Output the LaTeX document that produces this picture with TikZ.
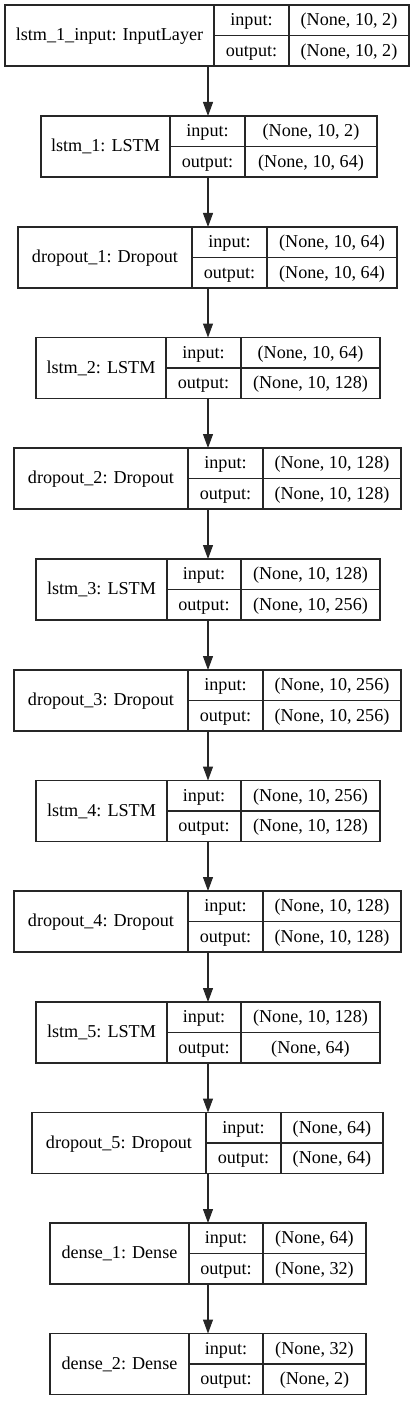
\documentclass[tikz,border=0pt]{standalone}
\usepackage{fontspec}
\setmainfont{Liberation Serif}
\usetikzlibrary{arrows.meta}

% one Keras layer record: name, left, divider 1, divider 2, right, top, layer, input shape, output shape
\newcommand{\kerasrec}[9]{%
  \node[recbox, minimum width={(#5-#2)*0.75pt}] (#1) at ({(#2+#5)/2},{#6+30.5}) {};
  \draw[recline] (#3,#6) -- (#3,#6+61);
  \draw[recline] (#4,#6) -- (#4,#6+61);
  \draw[recline] (#3,#6+30.5) -- (#5,#6+30.5);
  \node[rectext] (#1-name)   at ({(#2+#3)/2},{#6+30.5})  {#7};
  \node[rectext] (#1-inkey)  at ({(#3+#4)/2},{#6+15.25}) {input:};
  \node[rectext] (#1-outkey) at ({(#3+#4)/2},{#6+45.75}) {output:};
  \node[rectext] (#1-inval)  at ({(#4+#5)/2},{#6+15.25}) {#8};
  \node[rectext] (#1-outval) at ({(#4+#5)/2},{#6+45.75}) {#9};
}

\begin{document}
\begin{tikzpicture}[x=0.75pt,y=0.75pt,yscale=-1,xscale=1,
    recbox/.style={draw=black!85, line width=0.8pt, minimum height=45.75pt, inner sep=0pt, outer sep=0pt},
    recline/.style={draw=black!85, line width=0.8pt},
    rectext/.style={font=\fontsize{13.6}{16}\selectfont, inner sep=0pt, text height=10.2pt, text depth=2pt},
    flow/.style={draw=black!85, line width=0.8pt, -{Triangle[length=10.5pt,width=7.5pt]}}]

  \useasboundingbox (0,0) rectangle (416,1401);
  \coordinate (axis) at (208,0);

  % Input layer
  \kerasrec{lstm1input}{5}{214}{289}{409}{5}{lstm\_1\_input: InputLayer}{(None, 10, 2)}{(None, 10, 2)}

  % LSTM / Dropout pairs
  \kerasrec{lstm1}{41}{170}{245}{377}{116}{lstm\_1: LSTM}{(None, 10, 2)}{(None, 10, 64)}
  \kerasrec{dropout1}{18}{192}{267}{397}{227}{dropout\_1: Dropout}{(None, 10, 64)}{(None, 10, 64)}
  \kerasrec{lstm2}{36}{166}{241}{380}{337.5}{lstm\_2: LSTM}{(None, 10, 64)}{(None, 10, 128)}
  \kerasrec{dropout2}{14}{188}{263}{401}{448}{dropout\_2: Dropout}{(None, 10, 128)}{(None, 10, 128)}
  \kerasrec{lstm3}{36}{167}{241}{380}{559}{lstm\_3: LSTM}{(None, 10, 128)}{(None, 10, 256)}
  \kerasrec{dropout3}{14}{188}{263}{401}{670}{dropout\_3: Dropout}{(None, 10, 256)}{(None, 10, 256)}
  \kerasrec{lstm4}{36}{167}{241}{380}{780.5}{lstm\_4: LSTM}{(None, 10, 256)}{(None, 10, 128)}
  \kerasrec{dropout4}{14}{188}{263}{401}{891}{dropout\_4: Dropout}{(None, 10, 128)}{(None, 10, 128)}
  \kerasrec{lstm5}{36}{167}{241}{380}{1002}{lstm\_5: LSTM}{(None, 10, 128)}{(None, 64)}
  \kerasrec{dropout5}{32}{206}{281}{383}{1112.5}{dropout\_5: Dropout}{(None, 64)}{(None, 64)}

  % Dense layers
  \kerasrec{dense1}{50}{189}{263}{366}{1223}{dense\_1: Dense}{(None, 64)}{(None, 32)}
  \kerasrec{dense2}{50}{189}{263}{366}{1333.5}{dense\_2: Dense}{(None, 32)}{(None, 2)}

  % Connections
  \foreach \a/\b in {lstm1input/lstm1, lstm1/dropout1, dropout1/lstm2, lstm2/dropout2,
                     dropout2/lstm3, lstm3/dropout3, dropout3/lstm4, lstm4/dropout4,
                     dropout4/lstm5, lstm5/dropout5, dropout5/dense1, dense1/dense2}
    \draw[flow] (\a.south -| axis) -- (\b.north -| axis);

\end{tikzpicture}
\end{document}
